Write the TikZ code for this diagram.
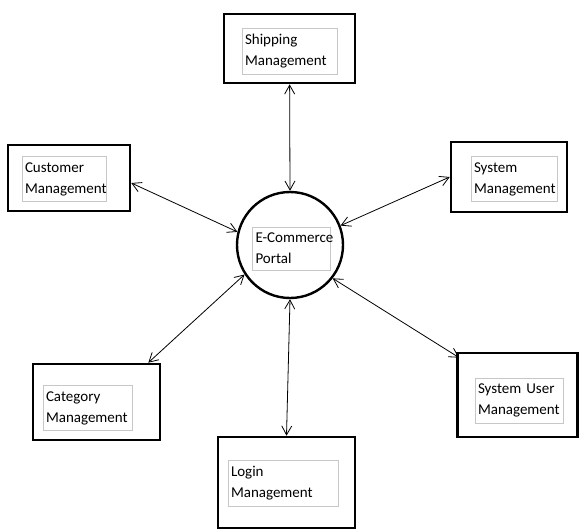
\documentclass[tikz,border=0pt]{standalone}
\usepackage{fontspec}
\setmainfont{Carlito}
\usetikzlibrary{arrows.meta}

\tikzset{
  module/.style={draw, line width=2.6pt, inner sep=0pt},
  caption/.style={draw=black!22, line width=0.5pt, align=left, inner xsep=3pt, inner ysep=6pt,
    font=\fontsize{15}{21}\selectfont, text width=#1},
  link/.style={{Straight Barb[length=9pt,width=10pt]}-{Straight Barb[length=9pt,width=10pt]}, line width=0.8pt}
}

\begin{document}
\begin{tikzpicture}[x=1pt,y=-1pt]
	\useasboundingbox (0,0) rectangle (579,530);
	% centre
	\node[draw, circle, line width=2.4pt, minimum size=106] (portal) at (290,245) {};
	\node[caption=72] (portaltxt) at (291.5,248.5) {\mbox{E-Commerce}\\Portal};
	
	% modules
	\node[module, minimum width=131, minimum height=69] (ship) at (289.5,48.5) {};
	\node[caption=89] (shiptxt) at (289.5,51.5) {Shipping\\Management};
	
	\node[module, minimum width=122, minimum height=66] (cust) at (69,178) {};
	\node[caption=78] (custtxt) at (64,179) {Customer\\Management};
	
	\node[module, minimum width=116, minimum height=70] (sys) at (509,177) {};
	\node[caption=80] (systxt) at (514,179) {System\\Management};
	
	\node[module, minimum width=127, minimum height=76] (cat) at (96.5,402) {};
	\node[caption=83] (cattxt) at (87.5,408) {Category\\Management};
	
	\node[module, minimum width=120, minimum height=84] (sysuser) at (517.5,395) {};
	\node[caption=82] (sysusertxt) at (519,400.5) {System User\\Management};
	
	\node[module, minimum width=137, minimum height=91] (login) at (286.5,482.5) {};
	\node[caption=104] (logintxt) at (283,483.5) {Login\\Management};
	
	% links
	\draw[link] (ship) -- (portal.north);
	\draw[link] ([yshift=-5]cust.east) -- (portal.166);
	\draw[link] (portal.21) -- (sys.west);
	\draw[link] ([xshift=-13]cat.north east) -- (portal.213);
	\draw[link] (portal.-38) -- ([xshift=3,yshift=-6]sysuser.north west);
	\draw[link] (portal.south) -- (login.north);
\end{tikzpicture}
\end{document}
